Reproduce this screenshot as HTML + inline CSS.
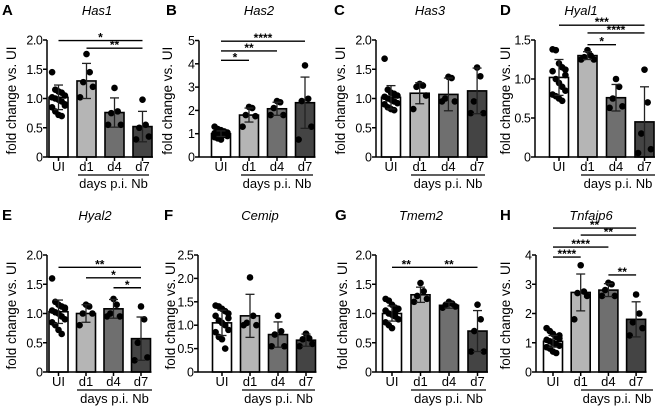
<!DOCTYPE html>
<html><head><meta charset="utf-8"><style>
html,body{margin:0;padding:0;background:#fff;}
svg{display:block;font-family:"Liberation Sans",Arial,sans-serif;}
</style></head><body>
<svg id="fig" width="666" height="411" viewBox="0 0 666 411" xmlns="http://www.w3.org/2000/svg"></svg>
<script>
// ---- data ----
const categories = ["UI","d1","d4","d7"];
const panelIds = ["A","B","C","D","E","F","G","H"];
const titles = ["Has1","Has2","Has3","Hyal1","Hyal2","Cemip","Tmem2","Tnfaip6"];
const yMax = [2,5,2,1.5,2,2.5,2,4];
const yStep = [0.5,1,0.5,0.5,0.5,0.5,0.5,1];
const A_means=[1.02,1.30,0.76,0.52], A_sd=[0.21,0.30,0.25,0.26];
const B_means=[1.00,1.80,2.07,2.33], B_sd=[0.12,0.30,0.28,1.10];
const C_means=[1.02,1.09,1.07,1.13], C_sd=[0.20,0.18,0.28,0.39];
const D_means=[1.02,1.30,0.76,0.45], D_sd=[0.23,0.05,0.17,0.45];
const E_means=[1.03,1.00,1.08,0.57], E_sd=[0.20,0.15,0.16,0.37];
const F_means=[1.05,1.20,0.80,0.68], F_sd=[0.27,0.46,0.27,0.13];
const G_means=[1.00,1.32,1.14,0.70], G_sd=[0.13,0.13,0.05,0.35];
const H_means=[1.05,2.72,2.80,1.80], H_sd=[0.20,0.63,0.22,0.60];
const A_pts=[[1.45,1.15,1.12,1.1,1.05,1.02,1.0,0.98,0.95,0.9,0.85,0.78,0.72,0.7,0.88],[1.76,1.45,1.28,1.2,1.02],[1.18,0.78,0.75,0.55,0.55],[0.98,0.55,0.5,0.35,0.3]];
const B_pts=[[1.3,1.2,1.15,1.1,1.05,1.02,1.0,0.98,0.95,0.9,0.85,0.8,0.75,1.08],[2.15,2.1,1.8,1.75,1.3],[2.4,2.35,2.1,1.8,1.8],[3.93,2.5,2.4,1.3,0.75]];
const C_pts=[[1.68,1.15,1.1,1.08,1.05,1.03,1.0,0.98,0.95,0.92,0.9,0.85,0.82,0.8],[1.25,1.22,1.2,1.05,0.82],[1.37,1.35,1.0,0.95,0.95],[1.53,1.38,0.95,0.75,0.75]];
const D_pts=[[1.38,1.37,1.2,1.15,1.12,1.1,1.0,0.95,0.9,0.85,0.8,0.78,0.75,0.72,1.05],[1.37,1.3,1.28,1.25,1.25],[1.0,0.9,0.75,0.65,0.63],[1.12,0.7,0.3,0.1,0.05]];
const E_pts=[[1.6,1.2,1.15,1.12,1.1,1.05,1.02,1.0,0.95,0.9,0.85,0.8,0.72,0.65,1.08],[1.15,1.12,1.0,1.0,0.8],[1.25,1.15,1.0,0.95,0.95],[1.12,0.9,0.5,0.25,0.2]];
const F_pts=[[1.42,1.4,1.35,1.3,1.25,1.2,1.1,1.05,1.0,0.9,0.85,0.75,0.7,0.5,1.15],[2.02,1.2,1.05,1.0,1.0],[1.2,0.87,0.8,0.55,0.55],[0.82,0.72,0.7,0.6,0.55]];
const G_pts=[[1.25,1.22,1.15,1.1,1.08,1.05,1.0,0.98,0.95,0.9,0.85,0.8,0.75,1.02],[1.52,1.38,1.3,1.25,1.2],[1.2,1.17,1.15,1.12,1.1],[1.15,0.9,0.7,0.35,0.35]];
const H_pts=[[1.5,1.4,1.3,1.2,1.15,1.1,1.05,1.0,0.95,0.9,0.85,0.8,0.7,0.65,1.25],[3.65,2.75,2.7,2.6,1.8],[3.05,3.0,2.8,2.6,2.6],[2.65,2.0,1.7,1.5,1.25]];
// significance: [fromIndex, toIndex, level(data units), label]
const A_sig=[[0,3,1.99,"*"],[1,3,1.86,"**"]];
const B_sig=[[0,1,4.15,"*"],[0,2,4.55,"**"],[0,3,4.97,"****"]];
const C_sig=[];
const D_sig=[[0,3,1.69,"***"],[1,3,1.59,"****"],[1,2,1.44,"*"]];
const E_sig=[[0,3,1.79,"**"],[1,3,1.61,"*"],[2,3,1.44,"*"]];
const F_sig=[];
const G_sig=[[0,1,1.79,"**"],[1,3,1.79,"**"]];
const H_sig=[[0,3,4.92,"**"],[1,3,4.68,"**"],[0,2,4.27,"****"],[0,1,3.93,"****"],[2,3,3.32,"**"]];
const allMeans=[A_means,B_means,C_means,D_means,E_means,F_means,G_means,H_means];
const allSd=[A_sd,B_sd,C_sd,D_sd,E_sd,F_sd,G_sd,H_sd];
const allPts=[A_pts,B_pts,C_pts,D_pts,E_pts,F_pts,G_pts,H_pts];
const allSig=[A_sig,B_sig,C_sig,D_sig,E_sig,F_sig,G_sig,H_sig];

// ---- layout (pixels) ----
const layout=[
 {ax:47,c0:58.5,sp:28,yt:40,y0:157,lx:2,tx:97,ylc:12,ux0:78,ux1:149},
 {ax:199,c0:221,sp:28,yt:40.5,y0:157,lx:166,tx:259,ylc:168,ux0:241,ux1:313},
 {ax:376,c0:391,sp:28.7,yt:40,y0:157,lx:334,tx:430,ylc:341,ux0:411,ux1:485},
 {ax:535,c0:559,sp:28.5,yt:40,y0:157,lx:500,tx:581,ylc:506,ux0:581,ux1:655},
 {ax:47,c0:58.5,sp:27.5,yt:255,y0:372,lx:2,tx:95,ylc:12,ux0:77,ux1:152},
 {ax:198,c0:222,sp:28,yt:255,y0:372,lx:164,tx:260,ylc:171,ux0:242,ux1:315},
 {ax:376,c0:392,sp:28.5,yt:255,y0:372,lx:335,tx:421,ylc:343,ux0:411,ux1:486},
 {ax:536,c0:553,sp:27.7,yt:255,y0:372,lx:500,tx:591,ylc:506,ux0:581,ux1:653}
];
const fills=["#ffffff","#b5b5b5","#6f6f6f","#444444"];

const NS="http://www.w3.org/2000/svg";
const svg=document.getElementById("fig");
function mk(tag,attrs,parent,text){const e=document.createElementNS(NS,tag);for(const k in attrs)e.setAttribute(k,attrs[k]);if(text!==undefined)e.textContent=text;(parent||svg).appendChild(e);return e;}

panelIds.forEach((pid,p)=>{
  const L=layout[p];
  const g=mk("g",{});
  
  
  const yScale=v=>L.y0-(v/yMax[p])*(L.y0-L.yt);
  const xScale=i=>L.c0+i*L.sp;
  const bw=19;
  const lt=mk("text",{x:L.lx,y:(L.y0<200?15:220),"font-size":"15","font-weight":"bold"},g,pid);
  
  
  const tt=mk("text",{x:L.tx,y:(L.y0<200?15:220),"font-size":"13","font-style":"italic","text-anchor":"middle"},g,titles[p]);
  
  
  const ymid=(L.yt+L.y0)/2+2;
  const yl=mk("text",{x:0,y:0,"font-size":"13.5","text-anchor":"middle",transform:`translate(${L.ylc+4},${ymid}) rotate(-90)`},g,"fold change vs. UI");
  
  
  categories.forEach((c,i)=>{
    const m=allMeans[p][i], cx=xScale(i);
    const r=mk("rect",{x:cx-bw/2,y:yScale(m),width:bw,height:L.y0-yScale(m),fill:fills[i],stroke:"#000","stroke-width":"1.6"},g);
    
    
  });
  categories.forEach((c,i)=>{
    const pts=allPts[p][i], cx=xScale(i), n=pts.length;
    pts.forEach((v,k)=>{
      const off = n>6 ? ((k%5)-2)*3.2 : ((k%2?1:-1)*(k===0?0:1)*((k+1)>>1)*3.2);
      const d=mk("circle",{cx:cx+off,cy:yScale(v),r:3.3,fill:"#000"},g);
      
      
    });
  });
  categories.forEach((c,i)=>{
    const m=allMeans[p][i], s=allSd[p][i], cx=xScale(i);
    const eg=mk("g",{stroke:"#222","stroke-width":"1.3"},g);
    
    
    mk("line",{x1:cx,x2:cx,y1:yScale(m+s),y2:yScale(Math.max(0,m-s))},eg);
    mk("line",{x1:cx-4.5,x2:cx+4.5,y1:yScale(m+s),y2:yScale(m+s)},eg);
    mk("line",{x1:cx-4.5,x2:cx+4.5,y1:yScale(Math.max(0,m-s)),y2:yScale(Math.max(0,m-s))},eg);
  });
  const ya=mk("line",{x1:L.ax,x2:L.ax,y1:L.yt,y2:L.y0,stroke:"#000","stroke-width":"1.5"},g);
  
  
  const xa=mk("line",{x1:L.ax,x2:xScale(3)+bw/2+1,y1:L.y0,y2:L.y0,stroke:"#000","stroke-width":"1.5"},g);
  
  
  for(let v=0;v<=yMax[p]+1e-9;v+=yStep[p]){
    const y=yScale(v);
    mk("line",{x1:L.ax-4,x2:L.ax,y1:y,y2:y,stroke:"#000","stroke-width":"1.5"},g);
    const lab = v===0?"0":(yStep[p]<1?v.toFixed(1):String(Math.round(v)));
    const t=mk("text",{x:L.ax-4.5,y:y+4.5,"font-size":"12.5","letter-spacing":"-0.4","text-anchor":"end"},g,lab);
    
    
  }
  categories.forEach((c,i)=>{
    const cx=xScale(i);
    mk("line",{x1:cx,x2:cx,y1:L.y0,y2:L.y0+4,stroke:"#000","stroke-width":"1.5"},g);
    const t=mk("text",{x:cx,y:L.y0+14,"font-size":"13","text-anchor":"middle"},g,c);
    
    
  });
  const ul=mk("line",{x1:L.ux0,x2:L.ux1,y1:L.y0+18,y2:L.y0+18,stroke:"#000","stroke-width":"1.2"},g);
  
  
  const gl=mk("text",{x:(L.ux0+L.ux1)/2,y:L.y0+31,"font-size":"13","text-anchor":"middle"},g,"days p.i. Nb");
  
  
  allSig[p].forEach(s=>{
    const y=yScale(s[2]);
    const sl=mk("line",{x1:xScale(s[0]),x2:xScale(s[1]),y1:y,y2:y,stroke:"#000","stroke-width":"1.4"},g);
    
    
    const st=mk("text",{x:(xScale(s[0])+xScale(s[1]))/2,y:y+1,"font-size":"12","font-weight":"bold","text-anchor":"middle"},g,s[3]);
    
    
  });
});
</script>
</body></html>
